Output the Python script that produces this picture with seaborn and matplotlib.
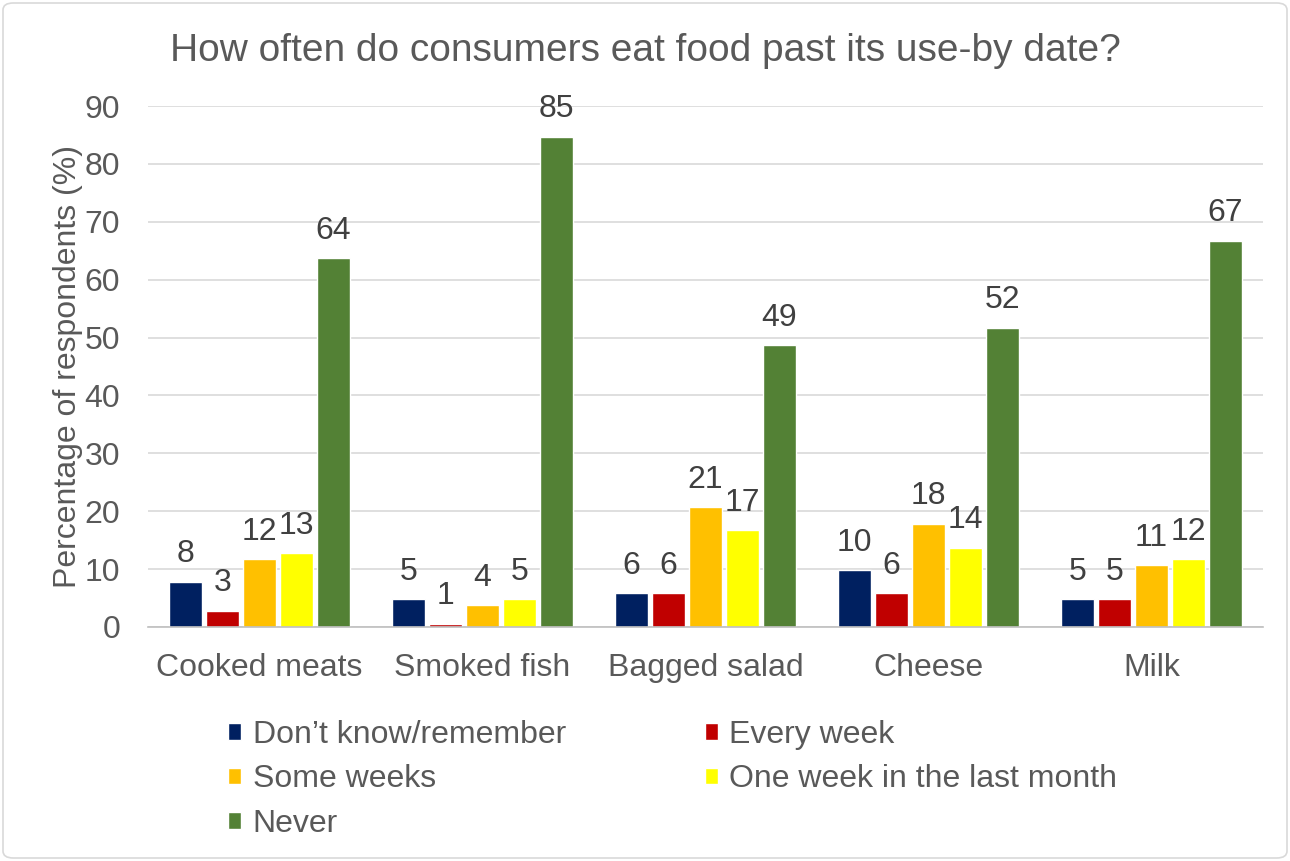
import matplotlib
matplotlib.use("Agg")
import matplotlib.pyplot as plt
import seaborn as sns
import pandas as pd
from matplotlib.patches import FancyBboxPatch
from matplotlib.ticker import FixedLocator

categories = ["Cooked meats", "Smoked fish", "Bagged salad", "Cheese", "Milk"]
series_names = ["Don\u2019t know/remember", "Every week", "Some weeks",
                "One week in the last month", "Never"]
dont_know = [7.8, 4.8, 5.8, 9.8, 4.8]
every_week = [2.8, 0.6, 5.8, 5.8, 4.8]
some_weeks = [11.7, 3.8, 20.7, 17.8, 10.7]
one_week = [12.7, 4.8, 16.7, 13.7, 11.7]
never = [63.7, 84.7, 48.7, 51.7, 66.7]
colors = ["#002060", "#C00000", "#FFC000", "#FFFF00", "#538135"]

series_values = [dont_know, every_week, some_weeks, one_week, never]
rows = []
for name, vals in zip(series_names, series_values):
    for cat, v in zip(categories, vals):
        rows.append({"Food": cat, "Frequency": name, "Value": v})
df = pd.DataFrame(rows)

sns.set_theme(style="white")
plt.rcParams["font.family"] = ["Liberation Sans", "DejaVu Sans"]
text_color = "#595959"
fs = 23

fig = plt.figure(figsize=(12.9, 8.61), dpi=100)
ax = fig.add_axes([148 / 1290, 1 - 627 / 861, (1263 - 148) / 1290, (627 - 106) / 861])

sns.barplot(data=df, x="Food", y="Value", hue="Frequency", order=categories,
            hue_order=series_names, palette=colors, width=0.83, gap=0.1,
            saturation=1, ax=ax, legend=True)

for cont in ax.containers:
    labels = [f"{int(round(b.get_height()))}" for b in cont]
    ax.bar_label(cont, labels=labels, padding=9, fontsize=fs, color="#404040")

ax.set_ylim(0, 90)
ax.set_xlim(-0.5, 4.5)
ax.set_yticks(range(0, 91, 10))
ax.yaxis.grid(True, color="#D9D9D9", linewidth=1.2)
ax.set_axisbelow(True)
for s in ["top", "right", "left"]:
    ax.spines[s].set_visible(False)
ax.spines["bottom"].set_color("#BFBFBF")
ax.spines["bottom"].set_linewidth(1.2)

ax.tick_params(axis="y", labelsize=fs, labelcolor=text_color, length=0, pad=20)
ax.tick_params(axis="x", which="major", labelsize=fs, labelcolor=text_color, length=0, pad=19)
ax.xaxis.set_minor_locator(FixedLocator([-0.5, 0.5, 1.5, 2.5, 3.5, 4.5]))
ax.tick_params(axis="x", which="minor", length=8, color="#BFBFBF", width=1.2)
ax.set_xlabel("")
ax.set_ylabel("Percentage of respondents (%)", fontsize=fs, color=text_color, labelpad=1)

fig.text(0.5, 1 - 51 / 861, "How often do consumers eat food past its use-by date?",
         fontsize=28, color=text_color, ha="center", va="center")

handles, labels = ax.get_legend_handles_labels()
order = [0, 2, 4, 1, 3]
ax.legend([handles[i] for i in order], [labels[i] for i in order],
          loc="upper left", bbox_to_anchor=(228 / 1290, 1 - 720 / 861),
          bbox_transform=fig.transFigure, ncol=2, frameon=False, fontsize=fs,
          labelcolor=text_color, handlelength=0.42, handleheight=0.42,
          handletextpad=0.35, columnspacing=4.35, labelspacing=0.45,
          borderpad=0, borderaxespad=0)

border = FancyBboxPatch((3 / 1290, 3 / 861), 1 - 6 / 1290, 1 - 6 / 861,
                        boxstyle="round,pad=0,rounding_size=0.008",
                        transform=fig.transFigure, fill=False,
                        edgecolor="#D9D9D9", linewidth=1.2)
fig.patches.append(border)

fig.savefig("out.png", dpi=100)
